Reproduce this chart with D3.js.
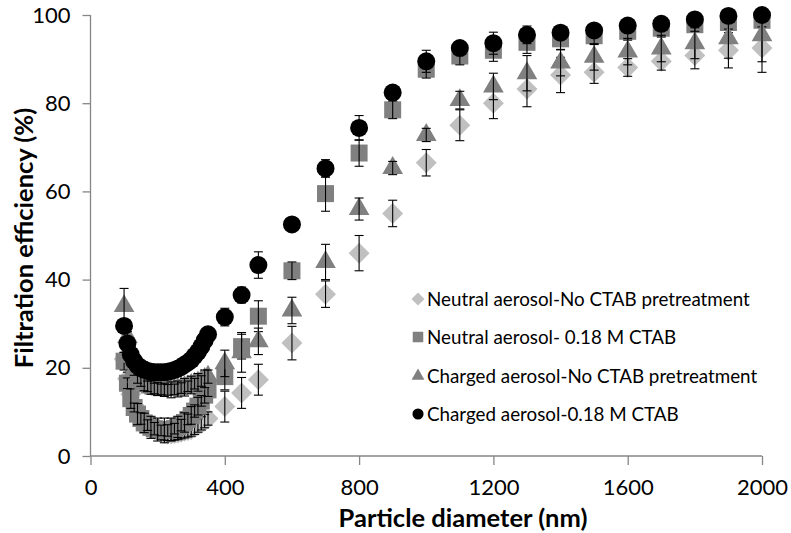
<!DOCTYPE html>
<html>
<head>
<meta charset="utf-8">
<script src="https://cdn.jsdelivr.net/npm/d3@7"></script>
<style>
  body { margin: 0; background: #fff; }
  svg { display: block; }
  text { font-family: Lato, "Open Sans", sans-serif; }
</style>
</head>
<body>
<svg id="chart" width="791" height="533"></svg>
<script>
// ---------- DATA ----------
const diameters = [100,110,120,130,140,150,160,170,180,190,200,210,220,230,240,250,260,270,280,290,300,310,320,330,340,350,
                   400,450,500,600,700,800,900,1000,1100,1200,1300,1400,1500,1600,1700,1800,1900,2000];

const neutralNoCTAB = [22,17.5,14,11.5,10,8.8,7.8,7,6.4,6,5.6,5.3,5.1,5,5,5.1,5.2,5.4,5.6,5.8,6,6.4,6.9,7.4,7.9,8.5,
                       11.2,14.3,17.3,25.6,36.7,46,55,66.5,75,80,83.2,86.4,87,88.1,89.5,90.8,92,92.5];
const neutralNoCTABErr = [1.5,1.5,1.5,1.5,1.5,1.5,1.5,1.5,1.5,1.5,1.5,1.5,1.5,1.5,1.5,1.5,1.5,1.5,1.5,1.5,1.5,1.5,1.5,1.5,1.5,1.5,
                          3.5,3.5,3.5,3.8,3,4,3,3,3.5,3.5,4,4,2.5,2,2,3,4,5.5];

const neutralCTAB = [21.5,16.5,13,11,9.5,8.5,7.5,7,6.5,6.2,6,5.8,5.8,5.8,6,6.2,6.6,7,7.6,8.3,9.2,10.2,11.3,12.5,13.8,15,
                     18,24.8,31.7,42,59.5,68.7,78.5,87.7,90.7,92,93.8,94.6,95.3,96.3,97,97.8,98.3,98.8];
const neutralCTABErr = [2,1.2,2.2,1,2.4,1.3,2.2,1.2,2.5,1.4,2.6,1.2,2.8,1.3,2.6,1.2,2.4,1.3,2.2,1.2,2,1.4,2,1.2,1.8,1.5,
                        3,2.8,3.5,2,4,3,2,2,2,2.5,2.5,2.5,2,2,2,1.5,1.5,1.5];

const chargedNoCTAB = [34,27,22.5,19.5,18,17,16.3,15.8,15.5,15.3,15.2,15.1,15,15,15,15.1,15.2,15.4,15.6,15.8,16.1,16.4,16.7,17,17.5,18,
                       21,23.5,26,33,44,56,65.3,72.8,80.7,83.8,86.8,89.2,90.5,91.7,92.4,93.6,94.7,95.4];
const chargedNoCTABErr = [4,1.2,1.2,1.2,1.5,1.2,1.5,1.2,1.5,1.2,1.5,1.2,1.5,1.2,1.8,1.2,1.8,1.2,2,1.2,2,1.2,2,1.2,2,1.5,
                          3,4.5,3,3,4,2.5,1.5,1.5,2,3,4,3,3,3,3,3.5,4.5,6];

const chargedCTAB = [29.5,25.5,23,21.5,20.5,20,19.6,19.3,19.1,19,19,19,19,19.1,19.3,19.5,19.8,20.2,20.7,21.2,21.8,22.7,23.6,24.8,26.2,27.6,
                     31.5,36.5,43.3,52.5,65.2,74.4,82.4,89.5,92.5,93.6,95.5,96,96.5,97.6,98,99,99.8,100];
const chargedCTABErr = [1.5,1,1,1,1,1,1,1,1,1,1,1,1,1,1,1,1,1,1,1,1,1,1,1,1,1.5,
                        2,1.8,3,1.5,2,2.8,1,2.5,1,2.5,2,1.5,1.5,1.5,1.5,1,1,0.8];

const seriesNames = ["Neutral aerosol-No CTAB pretreatment", "Neutral aerosol- 0.18 M CTAB",
                     "Charged aerosol-No CTAB pretreatment", "Charged aerosol-0.18 M CTAB"];
const xTicks = [0,400,800,1200,1600,2000];
const yTicks = [0,20,40,60,80,100];

// ---------- LAYOUT ----------
const svg = d3.select("#chart");
const x = d3.scaleLinear().domain([0,2000]).range([90.5,762]);
const y = d3.scaleLinear().domain([0,100]).range([456,15]);
const axisColor = "#868686";

const series = [
  {name: seriesNames[0], vals: neutralNoCTAB, err: neutralNoCTABErr, shape: "diamond", color: "#c0c0c0"},
  {name: seriesNames[1], vals: neutralCTAB, err: neutralCTABErr, shape: "square", color: "#808080"},
  {name: seriesNames[2], vals: chargedNoCTAB, err: chargedNoCTABErr, shape: "triangle", color: "#808080"},
  {name: seriesNames[3], vals: chargedCTAB, err: chargedCTABErr, shape: "circle", color: "#000000"}
];

function symbolPath(shape, scale) {
  const s = scale || 1;
  if (shape === "diamond") return d3.symbol().type(d3.symbolSquare).size(220*s*s)();
  if (shape === "square") return d3.symbol().type(d3.symbolSquare).size(289*s*s)();
  if (shape === "triangle") return d3.symbol().type(d3.symbolTriangle).size(185*s*s)();
  return d3.symbol().type(d3.symbolCircle).size(254*s*s)();
}
function symbolTransform(shape, px, py) {
  return shape === "diamond" ? `translate(${px},${py}) rotate(45)` : `translate(${px},${py})`;
}

// axes
const gx = svg.append("g").attr("transform", `translate(0,${y(0)})`)
  .call(d3.axisBottom(x).tickValues(xTicks).tickSize(9).tickPadding(14).tickFormat(d3.format("d")));
const gy = svg.append("g").attr("transform", `translate(${x(0)},0)`)
  .call(d3.axisLeft(y).tickValues(yTicks).tickSize(8).tickPadding(12));
[gx, gy].forEach(g => {
  g.select(".domain").attr("stroke", axisColor).attr("stroke-width", 1.3);
  g.selectAll(".tick line").attr("stroke", axisColor).attr("stroke-width", 1.3);
  g.selectAll(".tick text").attr("fill", "#000").style("font-size", "22px").style("font-family", "Lato, sans-serif");
});
gy.select(".domain").attr("d", `M0,${y(100)}V${y(0)}`);
gx.select(".domain").attr("d", `M${x(0)},0H${x(2000)}`);

// data
const plot = svg.append("g");
series.forEach(s => {
  const pts = diameters.map((d, i) => ({d, v: s.vals[i], e: s.err[i]}));
  const g = plot.append("g");
  g.selectAll("path.m").data(pts).join("path")
    .attr("class", "m")
    .attr("d", symbolPath(s.shape))
    .attr("transform", p => symbolTransform(s.shape, x(p.d), y(p.v)))
    .attr("fill", s.color);
  const eg = g.selectAll("g.e").data(pts).join("g").attr("class", "e")
    .attr("stroke", "#000").attr("stroke-width", 1.1);
  eg.append("line").attr("x1", p => x(p.d)).attr("x2", p => x(p.d))
    .attr("y1", p => y(p.v + p.e)).attr("y2", p => y(p.v - p.e));
  eg.append("line").attr("x1", p => x(p.d) - 4.5).attr("x2", p => x(p.d) + 4.5)
    .attr("y1", p => y(p.v + p.e)).attr("y2", p => y(p.v + p.e));
  eg.append("line").attr("x1", p => x(p.d) - 4.5).attr("x2", p => x(p.d) + 4.5)
    .attr("y1", p => y(p.v - p.e)).attr("y2", p => y(p.v - p.e));
});

// legend
const legend = svg.append("g");
const legY = [299, 337, 376, 414];
series.forEach((s, i) => {
  legend.append("path").attr("d", symbolPath(s.shape, 0.62))
    .attr("transform", symbolTransform(s.shape, 418, legY[i]))
    .attr("fill", s.color);
  legend.append("text").attr("x", 427).attr("y", legY[i]).attr("dy", "0.35em")
    .style("font-size", "18.8px").attr("fill", "#000").text(s.name);
});

// axis titles
svg.append("text").attr("x", 463).attr("y", 518).attr("dy", "0.35em").attr("text-anchor", "middle")
  .style("font-size", "25.5px").style("font-weight", "bold").text("Particle diameter (nm)");
svg.append("text").attr("transform", "translate(24,238) rotate(-90)").attr("dy", "0.35em")
  .attr("text-anchor", "middle").style("font-size", "25.5px").style("font-weight", "bold")
  .text("Filtration efficiency (%)");
</script>
</body>
</html>
